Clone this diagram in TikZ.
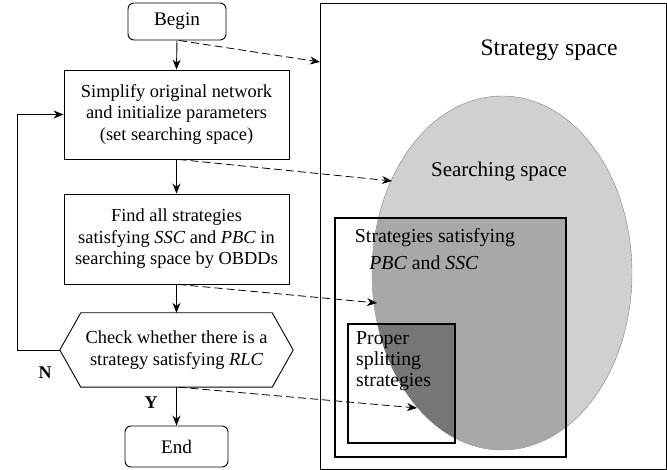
\documentclass[tikz,border=0pt]{standalone}
\usepackage{fontspec}
\setmainfont{Liberation Serif}
\usetikzlibrary{arrows.meta}
\definecolor{lightg}{RGB}{208,208,208}
\definecolor{midg}{RGB}{168,168,168}
\definecolor{darkg}{RGB}{118,118,118}
\begin{document}
\begin{tikzpicture}[x=1pt,y=-1pt,
  flow/.style={draw, line width=0.9pt, align=center, font=\fontsize{18.4}{21.5}\selectfont, inner sep=0pt},
  term/.style={flow, rounded corners=6pt, font=\fontsize{19.2}{22}\selectfont},
  arr/.style={-{Stealth[length=10pt,width=8pt]}, line width=0.9pt},
  darr/.style={arr, dash pattern=on 8pt off 4pt, line width=0.8pt},
  lbl/.style={font=\fontsize{18.4}{21.5}\selectfont, inner sep=0pt},
  rlbl/.style={font=\fontsize{19.8}{21}\selectfont, inner sep=0pt},
  yn/.style={font=\fontsize{18}{21}\selectfont\bfseries, inner sep=0pt}
]
\useasboundingbox (0,0) rectangle (667,470);

% ---------- right side: set diagram ----------
\node[draw, line width=0.9pt, minimum width=346pt, minimum height=466pt, inner sep=0pt] (space) at (493,236) {};
\fill[lightg, draw=gray] (502,273) ellipse [x radius=130, y radius=177];
\begin{scope}
  \clip (502,273) ellipse [x radius=130, y radius=177];
  \fill[midg] (335,218) rectangle (566,457);
  \fill[darkg] (348,324) rectangle (455,443);
\end{scope}
\node[draw, line width=1.2pt, minimum width=231pt, minimum height=239pt, inner sep=0pt] (pbc) at (450.5,337.5) {};
\node[draw, line width=2.4pt, minimum width=107pt, minimum height=119pt, inner sep=0pt] (proper) at (401.5,383.5) {};

\node[font=\fontsize{23.6}{27}\selectfont, inner sep=0pt] (tss) at (549,50) {Strategy space};
\node[font=\fontsize{21}{25}\selectfont, inner sep=0pt] (tsearch) at (499,171) {Searching space};
\node[rlbl] (tpbc1) at (435,238) {Strategies satisfying};
\node[rlbl] (tpbc2) at (424,263) {\textit{PBC} and \textit{SSC}};
\node[rlbl, align=left, anchor=north west] (tproper) at (356,331) {Proper\\splitting\\strategies};

% ---------- flowchart ----------
\node[term, minimum width=98pt, minimum height=37pt] (begin) at (177,21.5) {Begin};
\node[flow, minimum width=225pt, minimum height=89pt] (b1) at (176.5,114.5)
  {Simplify original network\\and initialize parameters\\(set searching space)};
\node[flow, minimum width=225pt, minimum height=90pt] (b2) at (176.5,239)
  {Find all strategies\\satisfying \textit{SSC} and \textit{PBC} in\\searching space by OBDDs};
\node[lbl, align=center, minimum width=233pt, minimum height=74pt] (hex) at (176.5,350)
  {Check whether there is a\\strategy satisfying \textit{RLC}};
\draw[line width=0.9pt] (hex.west) -- ([xshift=21pt]hex.north west) -- ([xshift=-21pt]hex.north east)
  -- (hex.east) -- ([xshift=-21pt]hex.south east) -- ([xshift=21pt]hex.south west) -- cycle;
\node[term, minimum width=103pt, minimum height=41pt] (end) at (176.5,446.5) {End};

\draw[arr] (begin.south) -- (b1.north);
\draw[arr] (b1.south) -- (b2.north);
\draw[arr] (b2.south) -- (hex.north);
\draw[arr] (hex.south) -- (end.north);
\coordinate (loopc) at (17,350);
\draw[arr] (hex.west) -- (loopc) |- (b1.west);

\node[yn] (nlab) at (45,373) {N};
\node[yn] (ylab) at (151,403) {Y};

% ---------- dashed links ----------
\coordinate (e1) at (320,62);
\coordinate (e2) at (392,181);
\coordinate (e3) at (377,303);
\coordinate (e4) at (417,408);
\draw[darr] ([xshift=2pt]begin.south) -- (e1);
\draw[darr] ([xshift=2pt]b1.south) -- (e2);
\draw[darr] ([xshift=2pt]b2.south) -- (e3);
\draw[darr] ([xshift=2pt]hex.south) -- (e4);
\end{tikzpicture}
\end{document}
